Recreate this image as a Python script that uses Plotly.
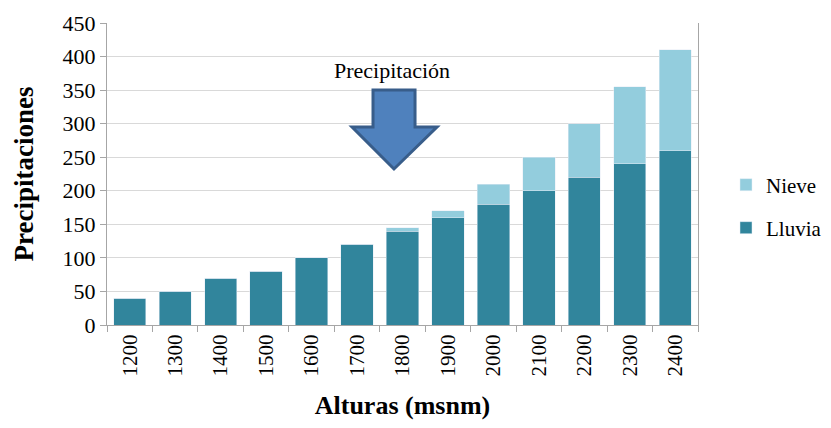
import plotly.graph_objects as go

alturas = ['1200', '1300', '1400', '1500', '1600', '1700', '1800',
           '1900', '2000', '2100', '2200', '2300', '2400']
lluvia = [40, 50, 70, 80, 100, 120, 140, 160, 180, 200, 220, 240, 260]
nieve = [0, 0, 0, 0, 0, 0, 5, 10, 30, 50, 80, 115, 150]

serif = 'Liberation Serif, Times New Roman, serif'

fig = go.Figure()
fig.add_trace(go.Bar(x=alturas, y=lluvia, name='Lluvia', marker_color='#31859C',
                     legend='legend2', showlegend=True))
fig.add_trace(go.Bar(x=alturas, y=nieve, name='Nieve', marker_color='#93CDDD',
                     legend='legend', showlegend=True))

# flecha decorativa (coordenadas de papel)
L, R, T, B = 107, 698, 23, 325
def px(x, y):
    return (x - L) / (R - L), (B - y) / (B - T)
pts = [(373, 90), (415, 90), (415, 127), (437, 127), (394, 169),
       (352, 127), (373, 127)]
path = 'M ' + ' L '.join('%.4f,%.4f' % px(*p) for p in pts) + ' Z'
fig.add_shape(type='path', path=path, xref='paper', yref='paper',
              fillcolor='#4F81BD', line=dict(color='#385D8A', width=3))
fig.add_annotation(text='Precipitación', xref='paper', yref='paper',
                   x=px(392, 0)[0], y=px(0, 70)[1], showarrow=False,
                   xanchor='center', yanchor='middle',
                   font=dict(family=serif, size=22, color='#000'))

leg = dict(x=px(726, 0)[0], xanchor='left', yanchor='middle', font=dict(size=21),
           bgcolor='rgba(0,0,0,0)', visible=True)

# la página tiene 8px de margen: figura de 815x412
fig.update_layout(
    width=815, height=412, showlegend=True,
    barmode='stack', bargap=0.29,
    paper_bgcolor='white', plot_bgcolor='white',
    margin=dict(l=99, r=125, t=15, b=95, autoexpand=False),
    font=dict(family=serif, size=21, color='#000'),
    legend=dict(leg, y=px(0, 185)[1]),
    legend2=dict(leg, y=px(0, 228)[1]),
)
fig.update_xaxes(type='category', tickangle=-90, ticks='outside', tickson='boundaries',
                 ticklen=6, tickcolor='#A6A6A6', showline=True, linecolor='#A6A6A6',
                 automargin=False, tickfont=dict(size=21),
                 title=dict(text='<b>Alturas (msnm)</b>', font=dict(size=26), standoff=29))
fig.update_yaxes(range=[0, 450], dtick=50, ticks='outside', ticklen=6, tickcolor='#A6A6A6',
                 showline=True, linecolor='#A6A6A6', mirror=True, gridcolor='#D9D9D9',
                 automargin=False, tickfont=dict(size=22),
                 title=dict(text='<b>Precipitaciones</b>', font=dict(size=27), standoff=21))

fig.write_html('out.html')
